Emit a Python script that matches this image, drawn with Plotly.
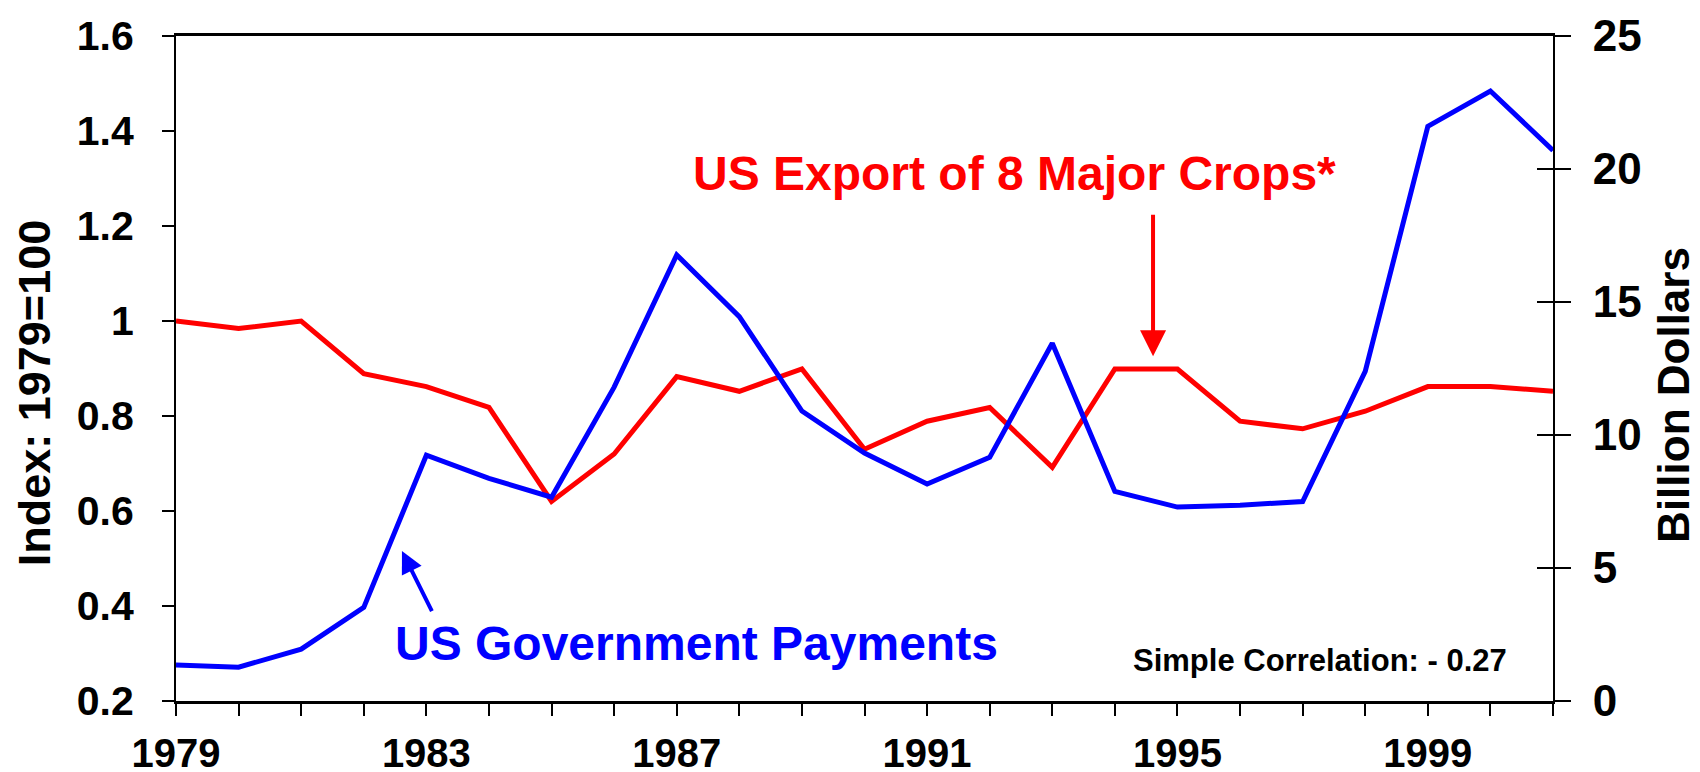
import plotly.graph_objects as go

# Data
years = list(range(1979, 2002))
export_index = [1.0, 0.984, 1.0, 0.889, 0.862, 0.818, 0.620, 0.720, 0.883, 0.852, 0.899, 0.730,
                0.789, 0.818, 0.692, 0.899, 0.899, 0.789, 0.773, 0.810, 0.862, 0.862, 0.852]
gov_payments = [1.35, 1.27, 1.95, 3.52, 9.24, 8.37, 7.66, 11.8, 16.77, 14.45, 10.9, 9.32,
                8.16, 9.16, 13.45, 7.88, 7.29, 7.36, 7.50, 12.39, 21.6, 22.93, 20.7]

x_tickvals = [1979, 1983, 1987, 1991, 1995, 1999]
left_tickvals = [0.2, 0.4, 0.6, 0.8, 1.0, 1.2, 1.4, 1.6]
left_ticktext = ["0.2", "0.4", "0.6", "0.8", "1", "1.2", "1.4", "1.6"]
right_tickvals = [0, 5, 10, 15, 20, 25]

FONT = "Liberation Sans, Arial, sans-serif"
RED = "#FF0000"
BLUE = "#0000FF"

fig = go.Figure()

# Export index on the left axis
fig.add_trace(go.Scatter(
    x=years, y=export_index, mode="lines", name="US Export of 8 Major Crops*",
    line=dict(color=RED, width=5), yaxis="y"
))

# Government payments on the right axis
fig.add_trace(go.Scatter(
    x=years, y=gov_payments, mode="lines", name="US Government Payments",
    line=dict(color=BLUE, width=5), yaxis="y2"
))

# dummy trace so the inner-tick axis gets drawn
fig.add_trace(go.Scatter(x=[], y=[], yaxis="y3", showlegend=False, hoverinfo="skip"))

axis_common = dict(showgrid=False, zeroline=False, linecolor="black", tickcolor="black",
                   automargin=False)

fig.update_layout(
    width=1700, height=772,
    margin=dict(l=168, r=155, t=28, b=79),
    plot_bgcolor="white", paper_bgcolor="white",
    showlegend=False,
    font=dict(family=FONT, color="black"),
    xaxis=dict(
        **axis_common,
        range=[1979, 2001],
        tickvals=x_tickvals,
        ticks="outside", ticklen=12, tickwidth=2,
        minor=dict(tickvals=years, ticks="outside", ticklen=12, tickwidth=2, tickcolor="black"),
        showline=True, linewidth=3, mirror=True,
        tickfont=dict(size=40, weight="bold", family=FONT),
        ticklabelstandoff=3,
    ),
    yaxis=dict(
        **axis_common,
        range=[0.2, 1.6],
        tickvals=left_tickvals, ticktext=left_ticktext,
        ticks="outside", ticklen=12, tickwidth=2,
        showline=True, linewidth=2,
        tickfont=dict(size=41, weight="bold", family=FONT),
        ticklabelstandoff=20,
    ),
    yaxis2=dict(
        **axis_common,
        overlaying="y", side="right",
        range=[0, 25], tickvals=right_tickvals,
        ticks="outside", ticklen=16, tickwidth=2,
        showline=True, linewidth=2,
        tickfont=dict(size=44, weight="bold", family=FONT),
        ticklabelstandoff=13,
    ),
    # inner half of the crossing ticks on the right axis
    yaxis3=dict(
        **axis_common,
        overlaying="y", side="right",
        range=[0, 25], tickvals=right_tickvals,
        ticks="inside", ticklen=16, tickwidth=2,
        showticklabels=False, showline=False,
    ),
)

# Series labels and arrows
fig.add_annotation(
    x=1992.39, y=1.311, xref="x", yref="y",
    text="US Export of 8 Major Crops*", showarrow=False,
    font=dict(size=48, color=RED, weight="bold", family=FONT),
    xanchor="center", yanchor="middle",
)
fig.add_annotation(
    x=1994.61, y=0.926, xref="x", yref="y",
    ax=1994.61, ay=1.227, axref="x", ayref="y",
    text="", showarrow=True,
    arrowhead=2, arrowsize=1.3, arrowwidth=4, arrowcolor=RED,
)
fig.add_annotation(
    x=1987.32, y=0.321, xref="x", yref="y",
    text="US Government Payments", showarrow=False,
    font=dict(size=48, color=BLUE, weight="bold", family=FONT),
    xanchor="center", yanchor="middle",
)
fig.add_annotation(
    x=1982.61, y=0.516, xref="x", yref="y",
    ax=1983.10, ay=0.386, axref="x", ayref="y",
    text="", showarrow=True,
    arrowhead=2, arrowsize=1.1, arrowwidth=4, arrowcolor=BLUE,
)
fig.add_annotation(
    x=2000.29, y=0.286, xref="x", yref="y",
    text="Simple Correlation: - 0.27", showarrow=False,
    font=dict(size=31, color="black", weight="bold", family=FONT),
    xanchor="right", yanchor="middle",
)

# Axis titles
fig.add_annotation(
    x=-0.103, y=0.463, xref="paper", yref="paper",
    text="Index: 1979=100", showarrow=False, textangle=-90,
    font=dict(size=45, color="black", weight="bold", family=FONT),
    xanchor="center", yanchor="middle",
)
fig.add_annotation(
    x=1.087, y=0.460, xref="paper", yref="paper",
    text="Billion Dollars", showarrow=False, textangle=-90,
    font=dict(size=44, color="black", weight="bold", family=FONT),
    xanchor="center", yanchor="middle",
)

fig.write_html("out.html")
